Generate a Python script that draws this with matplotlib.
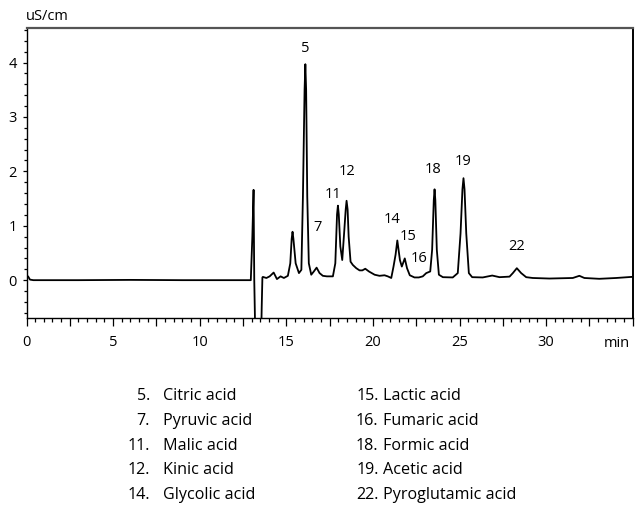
import matplotlib
matplotlib.use("Agg")
import matplotlib.pyplot as plt
from matplotlib.ticker import MultipleLocator, FuncFormatter

plt.rcParams['font.family'] = ['Open Sans', 'DejaVu Sans']

# Conductivity trace (time in min, signal in uS/cm)
time_min = [
    0.0, 0.09, 0.2, 0.4, 3.0, 6.0, 9.0, 12.95,
    13.04, 13.11, 13.15, 13.19, 13.22, 13.54, 13.58, 13.62, 13.65,
    13.85, 14.04, 14.27, 14.46, 14.67, 14.86, 15.09, 15.23, 15.31, 15.36, 15.41, 15.54,
    15.73, 15.87, 15.96, 16.055, 16.10, 16.145, 16.21, 16.30, 16.44, 16.59, 16.75, 16.92,
    17.11, 17.34, 17.69, 17.83, 17.93, 17.98, 18.03, 18.12, 18.23, 18.35, 18.43, 18.48,
    18.54, 18.60,
    18.71, 18.84, 19.04, 19.23, 19.39, 19.56, 19.77, 20.10, 20.38, 20.67,
    20.86, 21.06, 21.19, 21.31, 21.41, 21.56, 21.67, 21.84, 21.97, 22.13,
    22.40, 22.65, 22.88, 23.08, 23.31, 23.42, 23.515, 23.56, 23.605, 23.69, 23.81, 24.04,
    24.61, 24.90, 25.06, 25.17, 25.23, 25.29, 25.39, 25.54, 25.73, 26.34, 26.89, 27.31,
    27.89, 28.08, 28.31, 28.56, 28.85, 29.23, 30.19, 31.54, 31.92, 32.21,
    33.07, 34.04, 34.94,
]
signal_us = [
    0.02, 0.07, 0.01, 0.0, 0.0, 0.005, 0.0, 0.0,
    0.8, 1.66, 0.0, -0.69, -1.2, -1.2, -0.5, 0.05, 0.06,
    0.04, 0.07, 0.14, 0.02, 0.07, 0.04, 0.08, 0.31, 0.76, 0.89, 0.76, 0.31,
    0.13, 0.19, 1.54, 3.50, 3.97, 3.50, 1.54, 0.31, 0.10, 0.16, 0.23, 0.13,
    0.08, 0.07, 0.07, 0.31, 1.21, 1.37, 1.21, 0.62, 0.37, 0.92, 1.30, 1.46,
    1.30, 0.80,
    0.34, 0.28, 0.22, 0.18, 0.18, 0.21, 0.16, 0.10, 0.08, 0.09,
    0.07, 0.04, 0.25, 0.47, 0.73, 0.37, 0.25, 0.40, 0.22, 0.09,
    0.05, 0.05, 0.07, 0.13, 0.16, 0.56, 1.47, 1.67, 1.47, 0.56, 0.10, 0.055,
    0.05, 0.13, 0.86, 1.67, 1.875, 1.67, 0.86, 0.13, 0.055, 0.05, 0.085, 0.055,
    0.065, 0.13, 0.22, 0.13, 0.055, 0.04, 0.03, 0.04, 0.08, 0.04,
    0.025, 0.04, 0.06,
]

# Peak numbers and where their labels sit
peak_ids = ["5", "7", "11", "12", "14", "15", "16", "18", "19", "22"]
peak_label_t = [16.10, 16.79, 17.69, 18.50, 21.10, 22.02, 22.69, 23.46, 25.23, 28.27]
peak_label_v = [4.25, 0.97, 1.57, 2.00, 1.12, 0.81, 0.39, 2.04, 2.18, 0.62]

# Compound key
key_left_ids = ["5.", "7.", "11.", "12.", "14."]
key_left_names = ["Citric acid", "Pyruvic acid", "Malic acid", "Kinic acid", "Glycolic acid"]
key_right_ids = ["15.", "16.", "18.", "19.", "22."]
key_right_names = ["Lactic acid", "Fumaric acid", "Formic acid", "Acetic acid", "Pyroglutamic acid"]

W, H = 635, 505
fig = plt.figure(figsize=(W / 100, H / 100), dpi=100)
ax = fig.add_axes([26.5 / W, 1 - 317.7 / H, (632.7 - 26.5) / W, (317.7 - 28.3) / H])

ax.plot(time_min, signal_us, color="black", lw=1.3, solid_joinstyle="round")
ax.set_xlim(0, 35)
ax.set_ylim(-0.69, 4.63)

for s in ("left", "bottom", "right"):
    ax.spines[s].set_color("black")
    ax.spines[s].set_linewidth(1.0)
ax.spines["right"].set_linewidth(1.4)
ax.spines["top"].set_color("#555555")
ax.spines["top"].set_linewidth(1.6)

ax.xaxis.set_major_locator(MultipleLocator(2.5))
ax.xaxis.set_minor_locator(MultipleLocator(0.5))
ax.xaxis.set_major_formatter(FuncFormatter(
    lambda v, p: f"{int(round(v))}" if abs(v % 5) < 1e-6 and v < 34 else ""))
ax.yaxis.set_major_locator(MultipleLocator(1))
ax.yaxis.set_minor_locator(MultipleLocator(0.2))
ax.yaxis.set_major_formatter(FuncFormatter(lambda v, p: f"{int(round(v))}"))

FS = 10.5
ax.tick_params(axis="x", which="major", direction="out", length=5.5, width=0.9,
               pad=7, labelsize=FS, top=False)
ax.tick_params(axis="x", which="minor", direction="out", length=3.2, width=0.9, top=False)
ax.tick_params(axis="y", which="major", direction="out", length=3.0, width=0.9,
               pad=4, labelsize=FS, right=False)
ax.tick_params(axis="y", which="minor", direction="out", length=2.0, width=0.9, right=False)

ax.annotate("min", xy=(34.1, 0), xycoords=("data", "axes fraction"),
            xytext=(0, -18.5), textcoords="offset points",
            ha="center", va="center", fontsize=FS)
fig.text(26 / W, 1 - 16 / H, "uS/cm", ha="left", va="center", fontsize=FS)

for pid, t, v in zip(peak_ids, peak_label_t, peak_label_v):
    ax.text(t, v, pid, ha="center", va="center", fontsize=FS)

KS = 11.6
row0, dy = 396, 24.75
for i in range(5):
    yy = 1 - (row0 + i * dy) / H
    fig.text(150 / W, yy, key_left_ids[i], ha="right", va="center", fontsize=KS)
    fig.text(163.3 / W, yy, key_left_names[i], ha="left", va="center", fontsize=KS)
    fig.text(378.5 / W, yy, key_right_ids[i], ha="right", va="center", fontsize=KS)
    fig.text(383.3 / W, yy, key_right_names[i], ha="left", va="center", fontsize=KS)

fig.savefig("out.png", dpi=100)
